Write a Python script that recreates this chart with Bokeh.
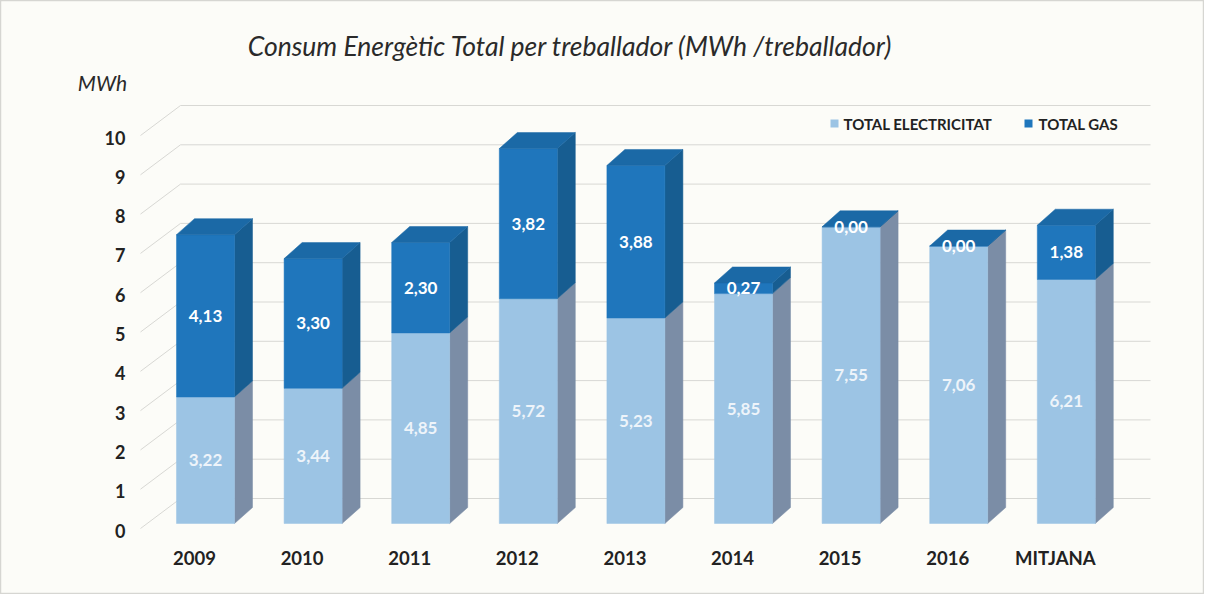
from bokeh.plotting import figure
from bokeh.models import Range1d
from bokeh.core.properties import value
from bokeh.embed import file_html
from bokeh.resources import INLINE

# ---------------- data ----------------
categories = ["2009", "2010", "2011", "2012", "2013", "2014", "2015", "2016", "MITJANA"]
electricitat = [3.22, 3.44, 4.85, 5.72, 5.23, 5.85, 7.55, 7.06, 6.21]
gas = [4.13, 3.30, 2.30, 3.82, 3.88, 0.27, 0.00, 0.00, 1.38]
y_ticks = [0, 1, 2, 3, 4, 5, 6, 7, 8, 9, 10]
title_text = "Consum Energètic Total per treballador (MWh /treballador)"
unit_text = "MWh"
series_names = ["TOTAL ELECTRICITAT", "TOTAL GAS"]

# ---------------- layout / style ----------------
W, H = 1204, 594
PX_X = 107.6          # pixels per category step
PX_Y = 39.3           # pixels per MWh
X0_PAGE, Y0_PAGE = 205.0, 528.0   # page position of category 0 / value 0 (front plane)
ORIGIN = 0

def xd(px):  # page px -> data x
    return (px - X0_PAGE) / PX_X

def yd(py):  # page px -> data y
    return (Y0_PAGE - py) / PX_Y

x_start = xd(ORIGIN)
x_end = xd(ORIGIN + W)
y_top = yd(ORIGIN)
y_bot = yd(ORIGIN + H)

# 3D geometry in data units
wall_dx, wall_dy = 40 / PX_X, 30 / PX_Y
bar_dx, bar_dy = 18 / PX_X, 16 / PX_Y
bar_base = 5 / PX_Y
bar_w = 58 / PX_X
wall_left = xd(180)
wall_right = xd(1150)
front_left = xd(140)

LIGHT = "#9cc4e4"
LIGHT_SIDE = "#7b8da6"
DARK = "#1f76bc"
DARK_SIDE = "#175d91"
DARK_TOP = "#1b69a6"
GRID = "#d8d8d4"
TEXT = "#222222"
BG = "#fcfcf8"

p = figure(width=W, height=H, output_backend="svg", toolbar_location=None,
           x_range=Range1d(x_start, x_end), y_range=Range1d(y_bot, y_top),
           min_border=0, min_border_left=0, min_border_right=0,
           min_border_top=0, min_border_bottom=0)
p.axis.visible = False
p.grid.visible = False
p.background_fill_color = BG
p.border_fill_color = BG
p.outline_line_color = "#d6d6d2"
p.outline_line_width = 1.5

# back wall gridlines + diagonal depth lines
for t in y_ticks:
    p.line([wall_left, wall_right], [t + wall_dy, t + wall_dy], line_color=GRID, line_width=1)
    p.line([front_left, wall_left], [t, t + wall_dy], line_color=GRID, line_width=1)

# bars (front, side, top faces) built from the data
front_x, front_y, front_c = [], [], []
side_x, side_y, side_c = [], [], []
top_x, top_y = [], []
for i, (e, g) in enumerate(zip(electricitat, gas)):
    l, r = i - bar_w / 2, i + bar_w / 2
    segs = [(bar_base, bar_base + e, LIGHT, LIGHT_SIDE),
            (bar_base + e, bar_base + e + g, DARK, DARK_SIDE)]
    for b, t, fc, sc in segs:
        front_x.append([l, r, r, l]); front_y.append([b, b, t, t]); front_c.append(fc)
        side_x.append([r, r + bar_dx, r + bar_dx, r]); side_y.append([b, b + bar_dy, t + bar_dy, t]); side_c.append(sc)
    T = bar_base + e + g
    top_x.append([l, r, r + bar_dx, l + bar_dx]); top_y.append([T, T, T + bar_dy, T + bar_dy])

p.patches(side_x, side_y, fill_color=side_c, line_color=side_c, line_width=0.5)
p.patches(front_x, front_y, fill_color=front_c, line_color=front_c, line_width=0.5)
p.patches(top_x, top_y, fill_color=DARK_TOP, line_color=DARK_TOP, line_width=0.5)

# value labels
fmt = lambda v: f"{v:.2f}".replace(".", ",")
xs = list(range(len(categories)))
p.text(xs, [bar_base + e / 2 for e in electricitat], text=[fmt(e) for e in electricitat],
       text_align="center", text_baseline="middle", text_color="#eef4fa",
       text_font=value("Lato"), text_font_style="bold", text_font_size="17px")
p.text(xs, [bar_base + e + g / 2 for e, g in zip(electricitat, gas)], text=[fmt(g) for g in gas],
       text_align="center", text_baseline="middle", text_color="#ffffff",
       text_font=value("Lato"), text_font_style="bold", text_font_size="17px")

# y tick labels (front plane)
p.text([xd(125)] * len(y_ticks), [t - 2 / PX_Y for t in y_ticks], text=[str(t) for t in y_ticks],
       text_align="right", text_baseline="middle", text_color=TEXT,
       text_font=value("Lato"), text_font_style="bold", text_font_size="18px")

# category labels
p.text([i - 11 / PX_X for i in xs], [yd(557)] * len(categories), text=categories,
       text_align="center", text_baseline="middle", text_color=TEXT,
       text_font=value("Lato"), text_font_style="bold", text_font_size="18.5px")

# title and unit
p.text([xd(570)], [yd(45)], text=[title_text], text_align="center", text_baseline="middle",
       text_color="#2a2a2a", text_font=value("Lato"), text_font_style="italic", text_font_size="26.5px")
p.text([xd(102)], [yd(82)], text=[unit_text], text_align="center", text_baseline="middle",
       text_color="#2a2a2a", text_font=value("Lato"), text_font_style="italic", text_font_size="21px")

# legend
p.scatter([xd(834), xd(1028)], [yd(123)] * 2, marker="square", size=8,
          fill_color=[LIGHT, DARK], line_color=None)
p.text([xd(843), xd(1038)], [yd(123)] * 2, text=series_names, text_align="left", text_baseline="middle",
       text_color=TEXT, text_font=value("Lato"), text_font_style="bold", text_font_size="15px")

open("out.html", "w").write(file_html(p, INLINE))
